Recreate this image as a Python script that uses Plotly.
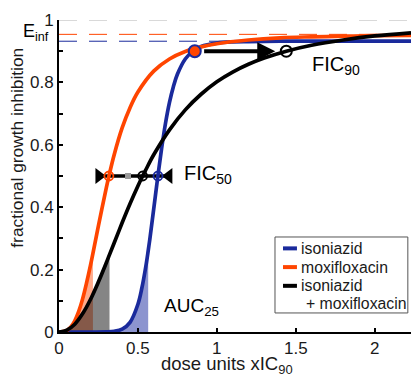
import plotly.graph_objects as go

# ---------------- data ----------------
iso_x = [0, 0.1, 0.2, 0.3, 0.35, 0.4, 0.45, 0.5, 0.525, 0.55, 0.565, 0.575, 0.6, 0.625,
         0.65, 0.675, 0.7, 0.725, 0.75, 0.8, 0.85, 0.9, 1.0, 1.1, 1.2, 1.4, 1.7, 2.0, 2.23]
iso_y = [0, 0, 0, 0.0004, 0.0022, 0.009, 0.031, 0.089, 0.141, 0.210, 0.260, 0.296, 0.394, 0.494,
         0.588, 0.670, 0.736, 0.787, 0.826, 0.875, 0.901, 0.915, 0.926, 0.930, 0.931, 0.932, 0.932, 0.932, 0.932]

moxi_x = [0, 0.025, 0.05, 0.075, 0.1, 0.125, 0.15, 0.175, 0.2, 0.215, 0.25, 0.3, 0.316, 0.35,
          0.4, 0.45, 0.5, 0.6, 0.7, 0.8, 0.9, 1.0, 1.2, 1.4, 1.6, 1.8, 2.0, 2.23]
moxi_y = [0, 0.001, 0.005, 0.016, 0.036, 0.066, 0.107, 0.158, 0.215, 0.252, 0.341, 0.463, 0.499, 0.569,
          0.654, 0.719, 0.769, 0.836, 0.875, 0.899, 0.914, 0.924, 0.936, 0.943, 0.946, 0.948, 0.950, 0.951]

combo_x = [0, 0.05, 0.1, 0.15, 0.2, 0.25, 0.3, 0.32, 0.35, 0.4, 0.45, 0.5, 0.53, 0.55, 0.6,
           0.7, 0.8, 0.9, 1.0, 1.1, 1.2, 1.3, 1.44, 1.6, 1.8, 2.0, 2.23]
combo_y = [0, 0.006, 0.025, 0.059, 0.105, 0.161, 0.222, 0.248, 0.286, 0.350, 0.411, 0.468, 0.500, 0.520, 0.568,
           0.648, 0.712, 0.762, 0.802, 0.833, 0.858, 0.878, 0.900, 0.919, 0.936, 0.949, 0.959]

series_names = ["isoniazid", "moxifloxacin", "isoniazid", "+ moxifloxacin"]

# AUC25 upper limits (dose where each curve reaches 25 %)
auc_limit_iso = 0.565
auc_limit_moxi = 0.215
auc_limit_combo = 0.32

# E_inf levels
einf_iso = 0.932
einf_moxi = 0.954
einf_combo = 1.0

# FIC50 construction
fic50_level = 0.5
fic50_x = [0.316, 0.53, 0.627]          # moxifloxacin, combination, isoniazid
fic50_additive_x = [0.437]
fic50_bracket_x = [0.253, 0.696]

# FIC90 construction
fic90_level = 0.9
fic90_single_x = [0.86]
fic90_combo_x = [1.44]
fic90_arrow = [0.91, 1.37]

x_ticks = [0, 0.5, 1, 1.5, 2]
x_ticktext = ["0", "0.5", "1", "1.5", "2"]
y_ticks = [0, 0.1, 0.2, 0.3, 0.4, 0.5, 0.6, 0.7, 0.8, 0.9, 1.0]
y_ticktext = ["0", "", "0.2", "", "0.4", "", "0.6", "", "0.8", "", "1"]
x_max = 2.23

# ---------------- styling ----------------
FONT = "Liberation Sans, Arial, sans-serif"
BLUE = "#1a2a9c"
RED = "#ff4500"
BLACK = "#000000"

fig = go.Figure()


def sub(xs, ys, lim):
    pts = [(a, b) for a, b in zip(xs, ys) if a <= lim + 1e-9]
    return [p[0] for p in pts], [p[1] for p in pts]


# AUC fills
for xs, ys, lim, col in [
    (iso_x, iso_y, auc_limit_iso, "rgba(26,42,160,0.5)"),
    (moxi_x, moxi_y, auc_limit_moxi, "rgba(255,69,0,0.45)"),
    (combo_x, combo_y, auc_limit_combo, "rgba(0,0,0,0.48)"),
]:
    fx, fy = sub(xs, ys, lim)
    fig.add_trace(go.Scatter(x=fx, y=fy, mode="lines", fill="tozeroy", fillcolor=col,
                             line=dict(width=0, shape="spline"), hoverinfo="skip", showlegend=False))

# E_inf dashed lines
for lvl, col in [(einf_combo, "#b4b4b4"), (einf_moxi, RED), (einf_iso, BLUE)]:
    fig.add_trace(go.Scatter(x=[0, x_max], y=[lvl, lvl], mode="lines",
                             line=dict(color=col, width=1, dash="18px,12px"),
                             hoverinfo="skip", showlegend=False, cliponaxis=False))

# FIC50 bracket line
fig.add_trace(go.Scatter(x=fic50_bracket_x, y=[fic50_level] * 2, mode="lines+markers",
                         line=dict(color=BLACK, width=3.5),
                         marker=dict(symbol=["triangle-right", "triangle-left"], size=14, color=BLACK),
                         showlegend=False))

# curves
for xs, ys, col in [(iso_x, iso_y, BLUE), (moxi_x, moxi_y, RED), (combo_x, combo_y, BLACK)]:
    fig.add_trace(go.Scatter(x=xs, y=ys, mode="lines", line=dict(color=col, width=3.7, shape="spline"),
                             showlegend=False))

# FIC50 markers
fig.add_trace(go.Scatter(x=fic50_additive_x, y=[fic50_level], mode="markers",
                         marker=dict(symbol="square", size=6, color="#9a9a9a"), showlegend=False))
fig.add_trace(go.Scatter(x=fic50_x, y=[fic50_level] * 3, mode="markers",
                         marker=dict(symbol="circle-open", size=9, color=[RED, BLACK, BLUE],
                                     line=dict(width=1.8)), showlegend=False))

# FIC90 markers + arrow
fig.add_trace(go.Scatter(x=fic90_single_x, y=[fic90_level], mode="markers",
                         marker=dict(symbol="circle", size=12, color=RED, line=dict(color=BLUE, width=2)),
                         showlegend=False))
fig.add_trace(go.Scatter(x=fic90_combo_x, y=[fic90_level], mode="markers",
                         marker=dict(symbol="circle-open", size=11, color=BLACK, line=dict(width=2)),
                         showlegend=False))
fig.add_annotation(x=fic90_arrow[1], y=fic90_level, ax=fic90_arrow[0], ay=fic90_level,
                   xref="x", yref="y", axref="x", ayref="y", text="", showarrow=True,
                   arrowhead=2, arrowsize=0.9, arrowwidth=4, arrowcolor=BLACK)

# text labels
lab_font = dict(family=FONT, size=20, color=BLACK)
fig.add_annotation(x=1.59, y=0.855, xref="x", yref="y", text="FIC<sub>90</sub>", showarrow=False,
                   xanchor="left", yanchor="middle", font=lab_font)
fig.add_annotation(x=0.778, y=0.505, xref="x", yref="y", text="FIC<sub>50</sub>", showarrow=False,
                   xanchor="left", yanchor="middle", font=lab_font)
fig.add_annotation(x=0.655, y=0.08, xref="x", yref="y", text="AUC<sub>25</sub>", showarrow=False,
                   xanchor="left", yanchor="middle", font=dict(family=FONT, size=19, color=BLACK))
fig.add_annotation(x=-0.108, y=0.96, xref="paper", yref="paper", text="E<sub>inf</sub>", showarrow=False,
                   xanchor="left", yanchor="middle", font=dict(family=FONT, size=18, color=BLACK))

# axis titles
fig.add_annotation(x=-0.12, y=0.59, xref="paper", yref="paper", text="fractional growth inhibition",
                   textangle=-90, showarrow=False, xanchor="center", yanchor="middle",
                   font=dict(family=FONT, size=17.3, color="#1a1a1a"))
fig.add_annotation(x=0.477, y=-0.107, xref="paper", yref="paper", text="dose units xIC<sub>90</sub>",
                   showarrow=False, xanchor="center", yanchor="middle",
                   font=dict(family=FONT, size=18.5, color="#1a1a1a"))

# custom legend
lx0, lx1, ly0, ly1 = 0.6136, 0.991, 0.061, 0.3045
fig.add_shape(type="rect", xref="paper", yref="paper", x0=lx0, x1=lx1, y0=ly0, y1=ly1,
              line=dict(color="#555555", width=1), fillcolor="white", layer="above")
leg_rows = [(0.268, BLUE), (0.208, RED), (0.148, BLACK)]
for (yy, col) in leg_rows:
    fig.add_shape(type="line", xref="paper", yref="paper", x0=0.6364, x1=0.676, y0=yy, y1=yy,
                  line=dict(color=col, width=4), layer="above")
leg_font = dict(family=FONT, size=15.8, color="#1a1a1a")
for i, (yy, _) in enumerate(leg_rows):
    fig.add_annotation(x=0.682, y=yy, xref="paper", yref="paper", text=series_names[i], showarrow=False,
                       xanchor="left", yanchor="middle", font=leg_font)
fig.add_annotation(x=0.695, y=0.09, xref="paper", yref="paper", text=series_names[3], showarrow=False,
                   xanchor="left", yanchor="middle", font=leg_font)

fig.update_layout(
    width=413, height=375,
    margin=dict(l=59, r=2, t=20, b=43),
    plot_bgcolor="white", paper_bgcolor="white",
    font=dict(family=FONT, size=17, color="#1a1a1a"),
    showlegend=False,
    xaxis=dict(range=[0, x_max], tickvals=x_ticks, ticktext=x_ticktext, ticks="inside", ticklen=4,
               tickwidth=1.5, tickcolor=BLACK, showline=True, linecolor=BLACK, linewidth=2,
               showgrid=False, zeroline=False, tickfont=dict(size=17), automargin=False),
    yaxis=dict(range=[0, 1], tickvals=y_ticks, ticktext=y_ticktext, ticks="inside", ticklen=4,
               tickwidth=1.5, tickcolor=BLACK, showline=True, linecolor=BLACK, linewidth=2,
               showgrid=False, zeroline=False, tickfont=dict(size=17), automargin=False),
)

fig.write_html("out.html", config={"displayModeBar": False},
               post_script="document.body.style.margin='0';document.body.style.overflow='hidden';")
